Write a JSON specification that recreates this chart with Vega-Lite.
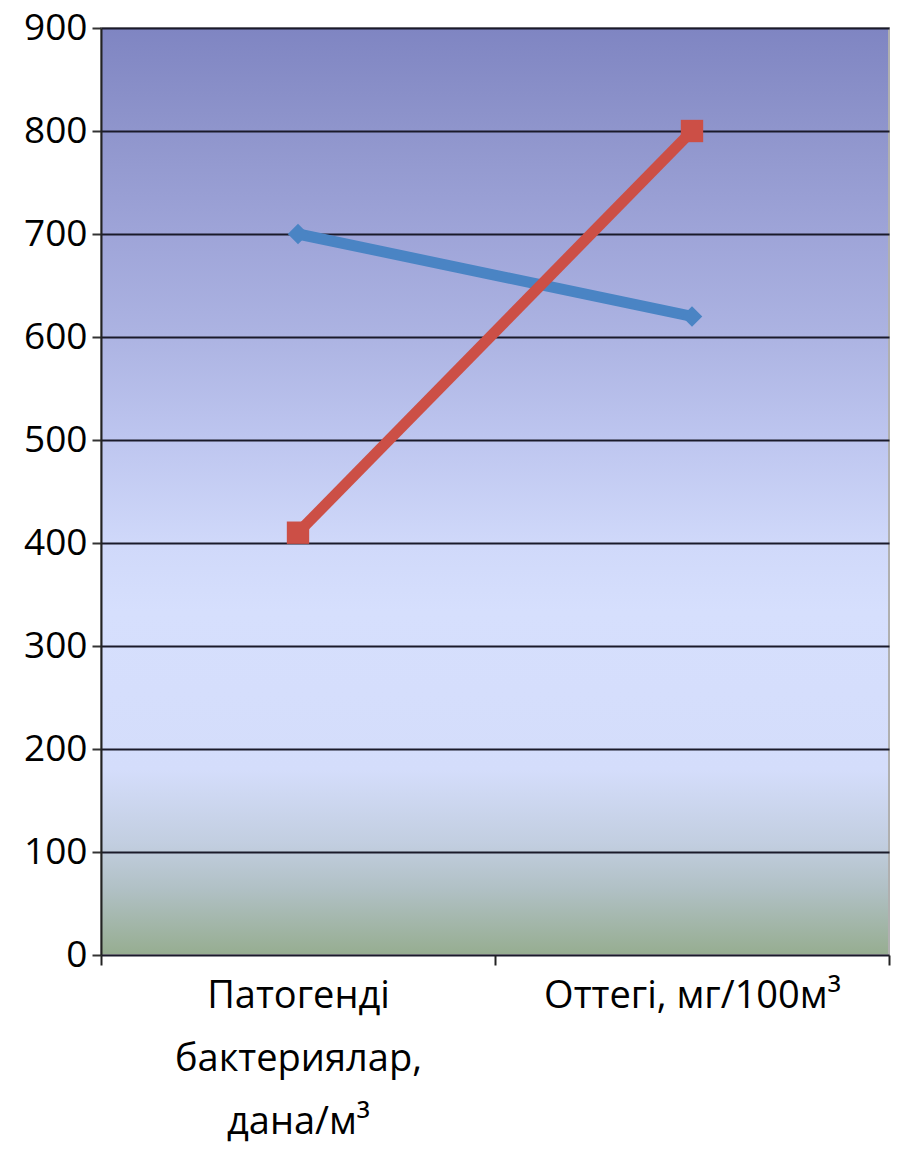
{
  "$schema": "https://vega.github.io/schema/vega-lite/v6.json",
  "width": 788,
  "height": 927,
  "autosize": "none",
  "padding": {"left": 101, "top": 28, "right": 10, "bottom": 194},
  "background": "white",
  "config": {
    "view": {
      "stroke": "#b0b0b0",
      "strokeWidth": 2,
      "fill": {
        "gradient": "linear",
        "x1": 0, "y1": 0, "x2": 0, "y2": 1,
        "stops": [
          {"offset": 0, "color": "#7f85c2"},
          {"offset": 0.11, "color": "#8f95cc"},
          {"offset": 0.22, "color": "#9ea4d8"},
          {"offset": 0.33, "color": "#acb3e2"},
          {"offset": 0.44, "color": "#bdc5ef"},
          {"offset": 0.56, "color": "#d0d9fa"},
          {"offset": 0.63, "color": "#d6dffd"},
          {"offset": 0.8, "color": "#d4ddfb"},
          {"offset": 0.88, "color": "#c2cee0"},
          {"offset": 0.93, "color": "#b0c0c4"},
          {"offset": 1, "color": "#96ad90"}
        ]
      }
    },
    "axis": {"labelFont": "Open Sans", "labelColor": "#000000"}
  },
  "data": {
    "values": [
      {"category": "Патогенді бактериялар, дана/м³", "series": "A", "value": 700},
      {"category": "Оттегі, мг/100м³", "series": "A", "value": 620},
      {"category": "Патогенді бактериялар, дана/м³", "series": "B", "value": 410},
      {"category": "Оттегі, мг/100м³", "series": "B", "value": 800}
    ]
  },
  "encoding": {
    "x": {
      "field": "category",
      "type": "nominal",
      "sort": null,
      "scale": {"paddingInner": 0, "paddingOuter": 0},
      "axis": {
        "title": null,
        "labelAngle": 0,
        "labelFontSize": 38,
        "labelLineHeight": 63,
        "labelPadding": 12,
        "labelBaseline": "top",
        "labelLimit": 0,
        "labelExpr": "datum.label == '' ? '' : (datum.value == 'Оттегі, мг/100м³' ? 'Оттегі, мг/100м³' : ['Патогенді', 'бактериялар,', 'дана/м³'])",
        "tickBand": "extent",
        "ticks": true,
        "tickSize": 10,
        "tickColor": "#222222",
        "tickWidth": 2,
        "domain": false,
        "grid": false
      }
    },
    "y": {
      "field": "value",
      "type": "quantitative",
      "scale": {"domain": [0, 900], "nice": false},
      "axis": {
        "title": null,
        "values": [0, 100, 200, 300, 400, 500, 600, 700, 800, 900],
        "labelFontSize": 37,
        "labelPadding": 5,
        "tickSize": 9,
        "tickColor": "#333333",
        "tickWidth": 2,
        "domainColor": "#222222",
        "domainWidth": 2,
        "grid": true,
        "gridColor": "#1a1a2a",
        "gridWidth": 2,
        "gridOpacity": 1
      }
    },
    "color": {
      "field": "series",
      "type": "nominal",
      "scale": {"domain": ["A", "B"], "range": ["#4a84c4", "#cc4f46"]},
      "legend": null
    }
  },
  "layer": [
    {"mark": {"type": "line", "strokeWidth": 11}},
    {
      "mark": {"type": "point", "filled": true, "opacity": 1},
      "encoding": {
        "shape": {
          "field": "series",
          "type": "nominal",
          "scale": {"domain": ["A", "B"], "range": ["diamond", "square"]},
          "legend": null
        },
        "size": {
          "field": "series",
          "type": "nominal",
          "scale": {"domain": ["A", "B"], "range": [420, 500]},
          "legend": null
        },
        "color": {
          "field": "series",
          "type": "nominal",
          "scale": {"domain": ["A", "B"], "range": ["#3f7cc0", "#d03a30"]},
          "legend": null
        }
      }
    }
  ]
}
